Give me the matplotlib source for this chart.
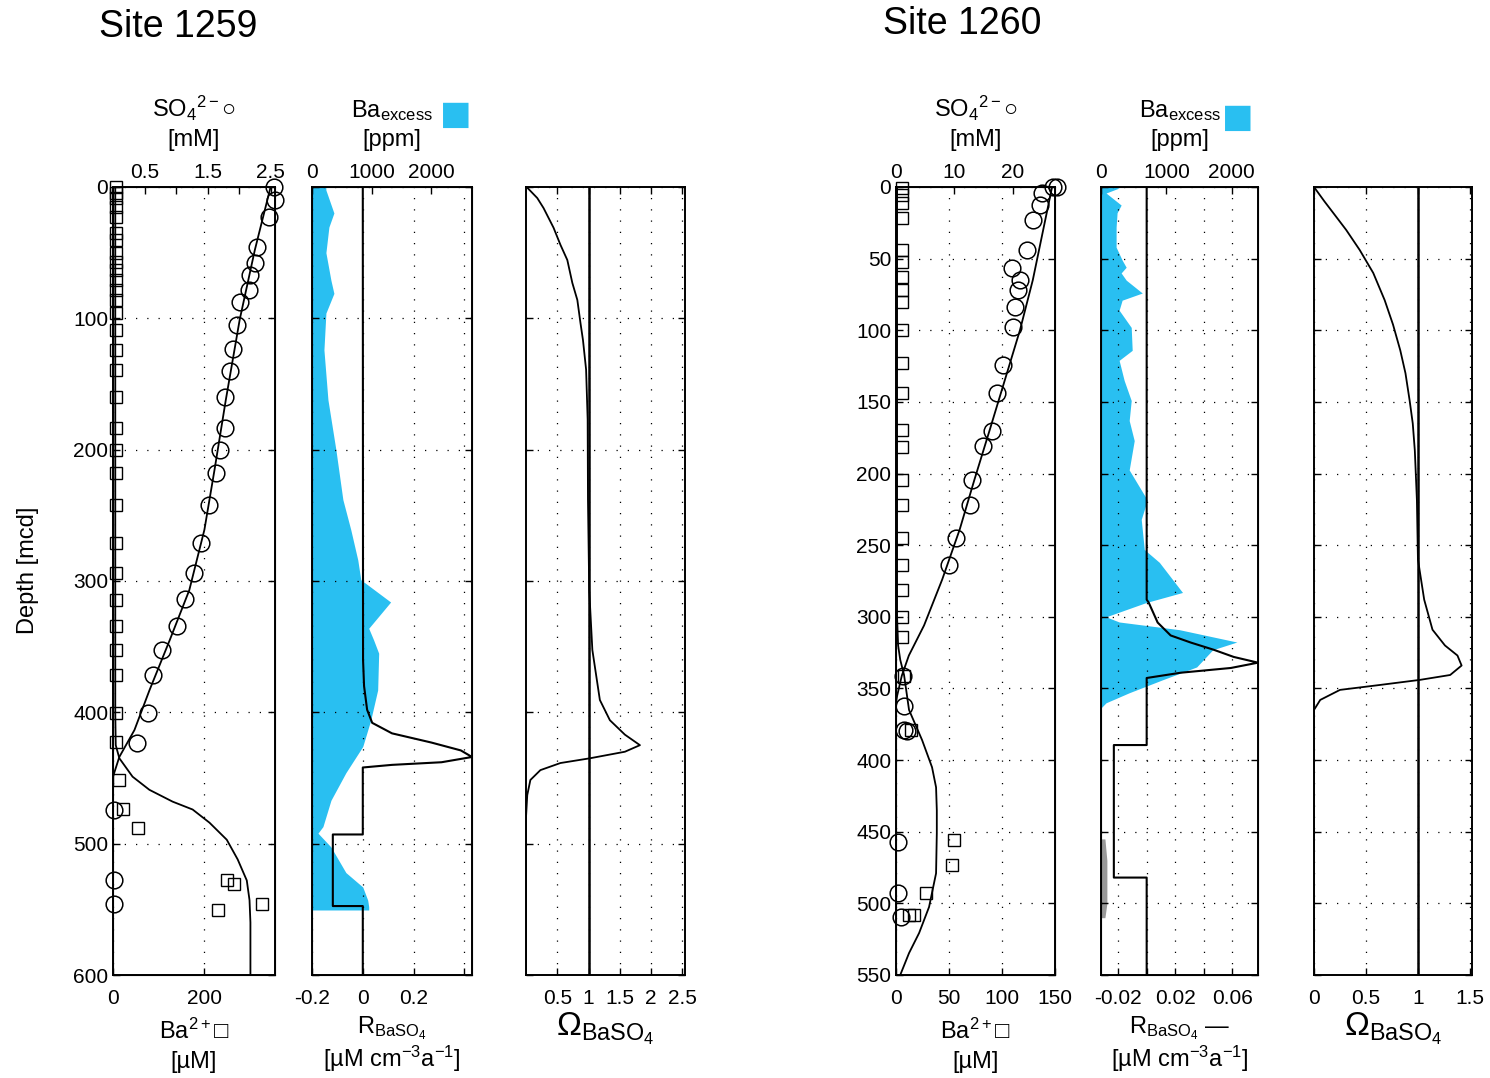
import matplotlib.pyplot as plt
import numpy as np

plt.rcParams['font.family'] = ['Liberation Sans', 'DejaVu Sans']
plt.rcParams['mathtext.fontset'] = 'custom'
plt.rcParams['mathtext.rm'] = 'Liberation Sans'
plt.rcParams['mathtext.it'] = 'Liberation Sans:italic'
plt.rcParams['mathtext.bf'] = 'Liberation Sans:bold'
plt.rcParams['axes.unicode_minus'] = False

# ---------------- Site 1259 ----------------
# pore water sulfate (mM)
so4_59_depth = [0, 9.9, 22.8, 45.7, 57.9, 67, 78.4, 87.6, 105, 123, 140, 160, 183.5, 200, 218,
                242, 271, 294, 314, 334, 352.5, 371.5, 400.5, 423, 474, 528, 546]
so4_59 = [2.55, 2.57, 2.48, 2.28, 2.25, 2.17, 2.15, 2.02, 1.96, 1.91, 1.85, 1.77, 1.78, 1.69, 1.64,
          1.52, 1.40, 1.28, 1.15, 1.01, 0.78, 0.64, 0.56, 0.38, 0.02, 0.02, 0.02]
# dissolved barium (uM)
ba_59_depth = [0, 4.6, 8.4, 15.2, 22.8, 35, 40.4, 50.3, 57.1, 63.2, 70.8, 78.4, 86, 96, 109, 124,
               139, 160, 183.5, 200, 218, 242, 271, 294, 314.5, 334, 352.5, 371.6, 400.5, 422.6,
               451.5, 473.6, 488, 528, 531, 546, 550.5]
ba_59 = [7, 7, 7, 7, 7, 7, 7, 7, 7, 7, 7, 7, 7, 7, 7, 7,
         7, 7, 7, 7, 7, 7, 7, 7, 7, 7, 7, 7, 7, 7,
         14, 23, 54, 250, 265, 327, 230]
# model profiles
so4_59_mod_depth = [0, 48, 101, 162, 215.5, 261, 307, 345, 383, 413.5, 434, 449]
so4_59_mod = [2.50, 2.25, 2.01, 1.79, 1.61, 1.45, 1.21, 0.90, 0.58, 0.34, 0.10, 0.0]
ba_59_mod_depth = [0, 100, 200, 300, 400, 425, 435, 449, 459, 468, 474, 484, 497, 512, 528, 543, 560, 600]
ba_59_mod = [5, 5, 5, 5, 5, 6, 14, 43, 80, 131, 175, 212, 250, 274, 294, 300, 302, 302]
# solid phase excess barium (ppm)
baex_59_depth = [0, 2.3, 19.8, 30.5, 50, 71, 81, 96, 124, 162, 200, 238, 261, 284, 299, 316, 336,
                 345, 355, 383, 406, 426, 446, 467, 487, 492, 502.5, 522, 533, 543, 548, 550.5]
baex_59 = [230, 233, 367, 283, 233, 317, 367, 233, 200, 267, 400, 517, 650, 767, 817, 1317, 950,
           1033, 1117, 1100, 983, 850, 567, 317, 183, 100, 317, 567, 850, 933, 950, 950]
# barite precipitation / dissolution rate
r_59_depth = [0, 360, 380, 398, 408, 416, 423, 429, 434, 438, 440, 442, 493, 493, 547.5, 547.5, 600]
r_59 = [0, 0.001, 0.005, 0.017, 0.037, 0.115, 0.27, 0.386, 0.43, 0.31, 0.115, 0.0, 0.0,
        -0.118, -0.118, 0.0, 0.0]
# barite saturation state
om_59_depth = [0, 8.4, 16, 31, 44, 55.6, 73, 86, 103.5, 116.5, 139, 177, 238, 307, 352.5, 390.6,
               406, 417, 425, 430, 435, 438.6, 444, 451.5, 463, 480, 600]
om_59 = [0.01, 0.18, 0.28, 0.44, 0.55, 0.66, 0.74, 0.82, 0.87, 0.91, 0.96, 0.985, 0.99, 1.01, 1.06,
         1.18, 1.34, 1.58, 1.82, 1.58, 1.02, 0.55, 0.23, 0.07, 0.02, 0.0, 0.0]

# ---------------- Site 1260 ----------------
so4_60_depth = [0, 0, 4, 12.6, 23, 44, 56.5, 65, 72, 84, 98, 124, 144, 170, 181, 204.5, 222, 245,
                264, 341, 362, 379, 380, 457, 493, 509.5]
so4_60 = [26.9, 27.5, 25.0, 24.7, 23.4, 22.4, 19.8, 21.2, 20.9, 20.3, 20.0, 18.3, 17.2, 16.4, 14.8,
          13.0, 12.6, 10.3, 9.1, 1.2, 1.4, 1.4, 1.9, 0.3, 0.3, 0.9]
ba_60_depth = [0.7, 5.6, 11.2, 21.6, 44, 52.3, 62.8, 72, 80.3, 99.8, 122.8, 143.7, 169.6, 181.5,
               204.5, 222, 245, 264, 281, 300, 314, 341, 379, 456, 473, 493, 508, 508]
ba_60 = [5.7, 5.7, 5.7, 5.7, 5.7, 5.7, 5.7, 5.7, 5.7, 5.7, 5.7, 5.7, 5.7, 5.7,
         5.7, 5.7, 5.7, 5.7, 5.7, 5.7, 5.7, 7.6, 14, 55, 53, 28.4, 17, 12.3]
so4_60_mod_depth = [0, 65, 100, 135, 170, 204.5, 239, 274, 306, 327, 341, 355, 360]
so4_60_mod = [26.7, 23.4, 21.2, 18.6, 16.0, 13.4, 10.9, 7.9, 4.8, 2.2, 1.0, 0.2, 0.0]
ba_60_mod_depth = [0, 100, 200, 300, 320, 330, 340.6, 365, 386, 405, 419, 435, 451, 479, 502.5,
                   520.7, 534.7, 550]
ba_60_mod = [1, 1, 1, 1, 2, 4, 7.6, 12.3, 24.6, 34, 37.8, 38.5, 38.5, 37.8, 31.2, 21.8, 12.3, 4]
baex_60_depth = [0, 0.7, 4.2, 12.6, 18, 28, 42, 51, 56, 60, 65, 74, 79, 86, 93, 98, 114, 121, 135,
                 149, 163, 177, 197.5, 218.5, 232, 253, 262, 283, 290, 300, 303.6, 309, 317.6, 323,
                 335, 344, 353, 360, 363.6]
baex_60 = [200, 277, 77, 308, 246, 231, 231, 323, 385, 308, 385, 631, 323, 277, 385, 462, 477, 277,
           354, 462, 431, 508, 431, 708, 615, 662, 892, 1246, 692, 77, 277, 1200, 2077, 1708, 1462,
           938, 431, 77, 0]
baex_60_low_depth = [455, 470, 500, 510]
baex_60_low = [60, 90, 90, 60]
r_60_depth = [0, 288, 290, 304, 313, 318, 323, 328, 332, 335.7, 339, 342.7, 389.5, 389.5, 482, 482, 550]
r_60 = [0, 0, 0.0014, 0.0077, 0.0168, 0.031, 0.047, 0.061, 0.078, 0.059, 0.024, 0, 0,
        -0.023, -0.023, 0, 0]
om_60_depth = [0, 10, 19.5, 30, 44, 60, 79, 96, 114, 130, 149, 165, 184, 218.5, 260, 288, 309, 320,
               327, 334, 340.6, 344, 347.6, 351, 358, 365, 550]
om_60 = [0, 0.1, 0.2, 0.31, 0.44, 0.57, 0.68, 0.76, 0.83, 0.88, 0.92, 0.95, 0.97, 0.99, 1.0, 1.06,
         1.14, 1.26, 1.38, 1.42, 1.31, 1.02, 0.63, 0.25, 0.06, 0.0, 0.0]

BLUE = '#29BFF1'
DOT = (0, (1, 8))
TICK_FS = 15
LAB_FS = 17
LSP = 1.4

fig = plt.figure(figsize=(14.9, 10.78), dpi=100)
H = 1078.0
W = 1490.0


def panel(x0, x1, ymax, ystep, ylabels):
    ax = fig.add_axes([x0 / W, 1 - 975 / H, (x1 - x0) / W, (975 - 187) / H])
    ax.set_ylim(ymax, 0)
    ax.set_yticks(np.arange(0, ymax + 1, ystep))
    if not ylabels:
        ax.set_yticklabels([])
    ax.tick_params(which='both', direction='in', length=5, labelsize=TICK_FS,
                   top=True, right=True, width=1)
    ax.tick_params(axis='x', pad=10)
    ax.grid(True, which='both', linestyle=DOT, color='k', lw=0.9)
    for s in ax.spines.values():
        s.set_linewidth(1.4)
    return ax


def top_axis(ax):
    axt = ax.twiny()
    axt.set_ylim(ax.get_ylim())
    axt.tick_params(which='both', direction='in', length=5, labelsize=TICK_FS, width=1)
    ax.tick_params(which='both', top=False)
    return axt


line = dict(color='k', lw=1.3, zorder=3)
circ = dict(ls='none', marker='o', ms=12, mfc='none', mec='k', mew=1.1, clip_on=False, zorder=4)
sq = dict(ls='none', marker='s', ms=9, mfc='none', mec='k', mew=1.0, clip_on=False, zorder=4)

# ---- Site 1259: barium and sulfate ----
ax1 = panel(113, 275, 600, 100, True)
ax1.set_xlim(0, 356)
ax1.set_xticks([0, 200])
ax1.plot(ba_59_mod, ba_59_mod_depth, **line)
ax1.plot(ba_59, ba_59_depth, **sq)
ax1.set_xlabel('Ba$^{2+}$\u25a1\n[\u00b5M]', fontsize=LAB_FS, labelpad=8, linespacing=LSP)
ax1t = top_axis(ax1)
ax1t.set_xlim(0, 2.57)
ax1t.set_xticks([0.5, 1.5, 2.5])
ax1t.set_xticks([1, 2], minor=True)
ax1t.plot(so4_59_mod, so4_59_mod_depth, **line)
ax1t.plot(so4_59, so4_59_depth, **circ)
ax1t.set_xlabel('SO$_4$$^{2-}$\u25cb\n[mM]', fontsize=LAB_FS, labelpad=12, linespacing=LSP)

# ---- Site 1259: excess barium and rate ----
ax2 = panel(312, 472, 600, 100, False)
ax2.set_xlim(-0.2, 0.43)
ax2.set_xticks([-0.2, 0, 0.2, 0.4])
ax2.set_xticklabels(['-0.2', '0', '0.2', ''])
ax2t = top_axis(ax2)
ax2t.set_xlim(0, 2680)
ax2t.set_xticks([0, 1000, 2000])
ax2t.fill_betweenx(baex_59_depth, 0, baex_59, color=BLUE, lw=0)
ax2.set_zorder(ax2t.get_zorder() + 1)
ax2.patch.set_visible(False)
ax2.plot(r_59, r_59_depth, color='k', lw=1.5, zorder=3)
ax2.set_xlabel('R$_{\\mathrm{BaSO_4}}$\n[\u00b5M cm$^{-3}$a$^{-1}$]', fontsize=LAB_FS, labelpad=5,
               linespacing=1.05)
ax2t.set_xlabel('Ba$_{\\mathrm{excess}}$\n[ppm]', fontsize=LAB_FS, labelpad=12, linespacing=LSP)
fig.text(456 / W, 1 - 114 / H, '\u25a0', color=BLUE, fontsize=24, ha='center', va='center',
         family='DejaVu Sans')

# ---- Site 1259: saturation state ----
ax3 = panel(526, 685, 600, 100, False)
ax3.set_xlim(0, 2.54)
ax3.set_xticks([0.5, 1, 1.5, 2, 2.5])
ax3.set_xticklabels(['0.5', '1', '1.5', '2', '2.5'])
ax3.axvline(1, color='k', lw=1.8, zorder=3)
ax3.plot(om_59, om_59_depth, **line)
ax3.set_xlabel('$\\Omega_{\\mathrm{BaSO_4}}$', fontsize=24, labelpad=2)

# ---- Site 1260: barium and sulfate ----
ax4 = panel(896, 1055, 550, 50, True)
ax4.set_xlim(0, 150)
ax4.set_xticks([0, 50, 100, 150])
ax4.plot(ba_60_mod, ba_60_mod_depth, **line)
ax4.plot(ba_60, ba_60_depth, **sq)
ax4.set_xlabel('Ba$^{2+}$\u25a1\n[\u00b5M]', fontsize=LAB_FS, labelpad=8, linespacing=LSP)
ax4t = top_axis(ax4)
ax4t.set_xlim(0, 27.2)
ax4t.set_xticks([0, 10, 20])
ax4t.plot(so4_60_mod, so4_60_mod_depth, **line)
ax4t.plot(so4_60, so4_60_depth, **circ)
ax4t.set_xlabel('SO$_4$$^{2-}$\u25cb\n[mM]', fontsize=LAB_FS, labelpad=12, linespacing=LSP)

# ---- Site 1260: excess barium and rate ----
ax5 = panel(1101, 1258, 550, 50, False)
ax5.set_xlim(-0.032, 0.078)
ax5.set_xticks([-0.02, 0.02, 0.06])
ax5.set_xticklabels(['-0.02', '0.02', '0.06'])
ax5.set_xticks([0, 0.04], minor=True)
ax5t = top_axis(ax5)
ax5t.set_xlim(0, 2400)
ax5t.set_xticks([0, 1000, 2000])
ax5t.fill_betweenx(baex_60_depth, 0, baex_60, color=BLUE, lw=0)
ax5t.fill_betweenx(baex_60_low_depth, 0, baex_60_low, color='0.6', lw=0)
ax5.set_zorder(ax5t.get_zorder() + 1)
ax5.patch.set_visible(False)
ax5.plot(r_60, r_60_depth, color='k', lw=1.5, zorder=3)
ax5.set_xlabel('R$_{\\mathrm{BaSO_4}}$ \u2014\n[\u00b5M cm$^{-3}$a$^{-1}$]', fontsize=LAB_FS, labelpad=5,
               linespacing=1.05)
ax5t.set_xlabel('Ba$_{\\mathrm{excess}}$\n[ppm]', fontsize=LAB_FS, labelpad=12, linespacing=LSP)
fig.text(1238 / W, 1 - 117 / H, '\u25a0', color=BLUE, fontsize=24, ha='center', va='center',
         family='DejaVu Sans')

# ---- Site 1260: saturation state ----
ax6 = panel(1314, 1472, 550, 50, False)
ax6.set_xlim(0, 1.52)
ax6.set_xticks([0, 0.5, 1, 1.5])
ax6.set_xticklabels(['0', '0.5', '1', '1.5'])
ax6.axvline(1, color='k', lw=1.8, zorder=3)
ax6.plot(om_60, om_60_depth, **line)
ax6.set_xlabel('$\\Omega_{\\mathrm{BaSO_4}}$', fontsize=24, labelpad=2)

fig.text(28 / W, 1 - 570 / H, 'Depth [mcd]', rotation=90, fontsize=LAB_FS, ha='center', va='center')
fig.text(178 / W, 1 - 27 / H, 'Site 1259', fontsize=27, ha='center', va='center')
fig.text(962 / W, 1 - 24 / H, 'Site 1260', fontsize=27, ha='center', va='center')

fig.savefig('out.png', dpi=100)
